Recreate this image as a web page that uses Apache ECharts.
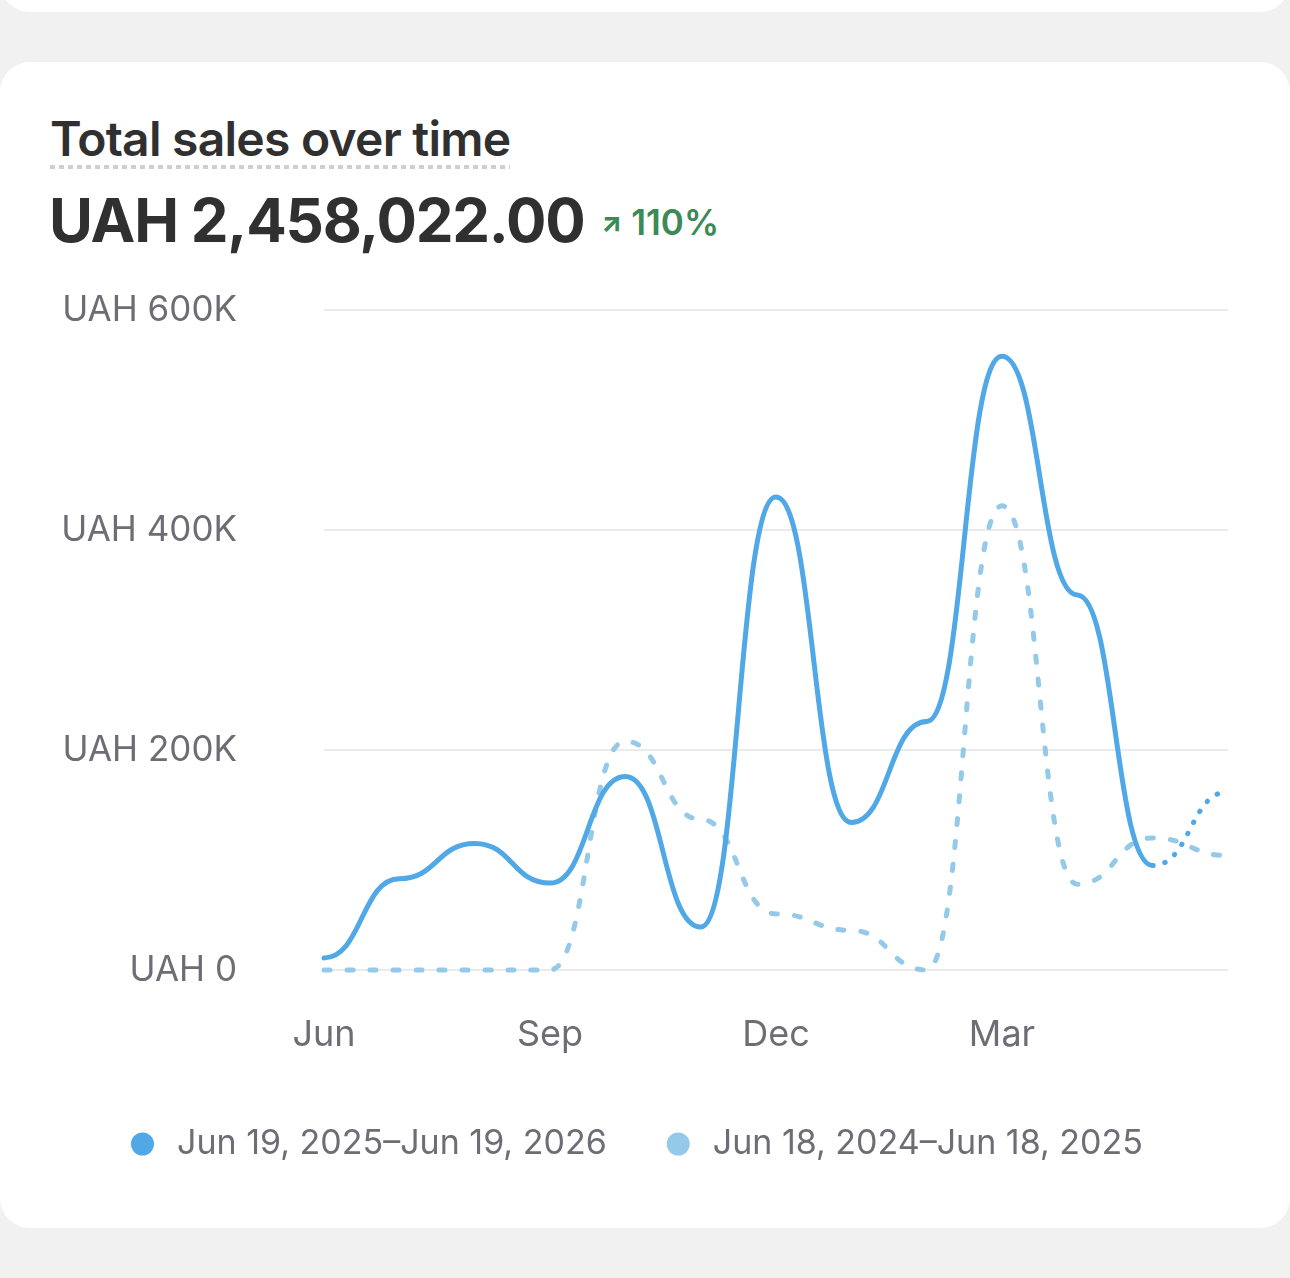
<!DOCTYPE html>
<html>
<head>
<meta charset="utf-8">
<script src="https://cdn.jsdelivr.net/npm/echarts@6/dist/echarts.min.js"></script>
<style>
  html, body { margin: 0; padding: 0; }
  body { width: 1290px; height: 1278px; background: #f1f1f1; position: relative; overflow: hidden; font-family: Inter, "Noto Sans", sans-serif; }
  .card-top { position: absolute; left: 0; top: -60px; width: 1290px; height: 72px; background: #fff; border-radius: 30px; }
  .card { position: absolute; left: 0; top: 62px; width: 1290px; height: 1166px; background: #fff; border-radius: 30px; }
  .title { position: absolute; left: 50px; top: 111px; font-size: 48px; font-weight: 600; color: #303030; letter-spacing: -0.75px; line-height: 56px;
    padding-bottom: 2px;
    background-image: linear-gradient(to right, #cfcfcf 60%, transparent 0);
    background-size: 9px 4px; background-repeat: repeat-x; background-position: left bottom; }
  .total { position: absolute; left: 49px; top: 182px; font-size: 60px; font-weight: 700; color: #303030; letter-spacing: -1.2px; line-height: 76px; }
  .delta { position: absolute; left: 601px; top: 200px; font-size: 35px; font-weight: 600; color: #3c8a55; line-height: 44px; }
  .delta .arr { font-size: 27px; font-weight: 800; margin-right: 9px; position: relative; top: -3px; }
  #chart { position: absolute; left: 0; top: 0; width: 1290px; height: 1278px; }
</style>
</head>
<body>
<div class="card-top"></div>
<div class="card"></div>
<div class="title">Total sales over time</div>
<div class="total">UAH 2,458,022.00</div>
<div class="delta"><span class="arr">&#8599;</span>110%</div>
<div id="chart"></div>
<script>
// monthly buckets, Jun 2025 .. Jun 2026
const months = ['Jun 2025', 'Jul 2025', 'Aug 2025', 'Sep 2025', 'Oct 2025', 'Nov 2025', 'Dec 2025',
  'Jan 2026', 'Feb 2026', 'Mar 2026', 'Apr 2026', 'May 2026', 'Jun 2026'];
const xTickLabels = ['Jun', 'Sep', 'Dec', 'Mar'];

const currentName = 'Jun 19, 2025\u2013Jun 19, 2026';
const previousName = 'Jun 18, 2024\u2013Jun 18, 2025';

// values (UAH)
const currentValues = [11000, 83000, 115000, 79000, 176000, 39000, 430000, 134000, 226000, 558000, 341000, 95000, 162000];
const previousValues = [0, 0, 0, 0, 208000, 137000, 51000, 36000, 0, 422000, 78000, 120000, 104000];

const yTicks = [0, 200000, 400000, 600000];
const yTickLabels = ['UAH 0', 'UAH 200K', 'UAH 400K', 'UAH 600K'];

const blue = '#50a8e7';
const lightBlue = '#94c9e9';

// last month is still in progress -> drawn dotted
const lastFull = currentValues.length - 2;

// curve with flat tangents at every point (bezier handles half way between points)
function curvePath(pts) {
  let d = 'M' + pts[0][0] + ' ' + pts[0][1];
  for (let i = 1; i < pts.length; i++) {
    const a = pts[i - 1], b = pts[i];
    const mx = (a[0] + b[0]) / 2;
    d += ' C' + mx + ' ' + a[1] + ' ' + mx + ' ' + b[1] + ' ' + b[0] + ' ' + b[1];
  }
  return d;
}

function lineRenderer(values, pieces) {
  return function (params, api) {
    if (params.dataIndex !== 0) return null;
    const pts = values.map((v, i) => api.coord([i, v]));
    return {
      type: 'group',
      children: pieces.map((p) => ({
        type: 'path',
        shape: { pathData: curvePath(pts.slice(p.from, p.to + 1)) },
        style: {
          fill: 'none',
          stroke: p.color,
          lineWidth: 5,
          lineCap: 'round',
          lineJoin: 'round',
          lineDash: p.dash || null
        }
      }))
    };
  };
}

const chart = echarts.init(document.getElementById('chart'));

const option = {
  animation: false,
  textStyle: { fontFamily: 'Inter, "Noto Sans", sans-serif' },
  grid: { left: 324, right: 62, top: 310, bottom: 308 },
  xAxis: {
    type: 'category',
    data: months,
    boundaryGap: false,
    axisLine: { show: false },
    axisTick: { show: false },
    axisLabel: {
      interval: (idx) => idx % 3 === 0 && idx < months.length - 1,
      formatter: (v) => xTickLabels[months.indexOf(v) / 3],
      color: '#6e6d76',
      fontSize: 36,
      margin: 47
    }
  },
  yAxis: {
    type: 'value',
    min: yTicks[0],
    max: yTicks[yTicks.length - 1],
    interval: yTicks[1] - yTicks[0],
    axisLine: { show: false },
    axisTick: { show: false },
    splitLine: { lineStyle: { color: '#ebebed', width: 2 } },
    axisLabel: {
      formatter: (v) => yTickLabels[yTicks.indexOf(v)],
      color: '#6e6d76',
      fontSize: 35,
      margin: 87
    }
  },
  legend: {
    data: [currentName, previousName],
    left: 126,
    top: 1119,
    icon: 'circle',
    itemWidth: 23,
    itemHeight: 23,
    itemGap: 60,
    textStyle: { color: '#6e6d76', fontSize: 34, lineHeight: 40, padding: [0, 0, 0, 18] }
  },
  series: [
    {
      name: previousName,
      type: 'custom',
      silent: true,
      itemStyle: { color: lightBlue },
      data: previousValues.map((v, i) => [i, v]),
      renderItem: lineRenderer(previousValues, [
        { from: 0, to: previousValues.length - 1, color: lightBlue, dash: [6, 17] }
      ]),
      z: 2
    },
    {
      name: currentName,
      type: 'custom',
      silent: true,
      itemStyle: { color: blue },
      data: currentValues.map((v, i) => [i, v]),
      renderItem: lineRenderer(currentValues, [
        { from: 0, to: lastFull, color: blue },
        { from: lastFull, to: currentValues.length - 1, color: blue, dash: [0.5, 12] }
      ]),
      z: 3
    }
  ]
};

option && chart.setOption(option);
</script>
</body>
</html>
